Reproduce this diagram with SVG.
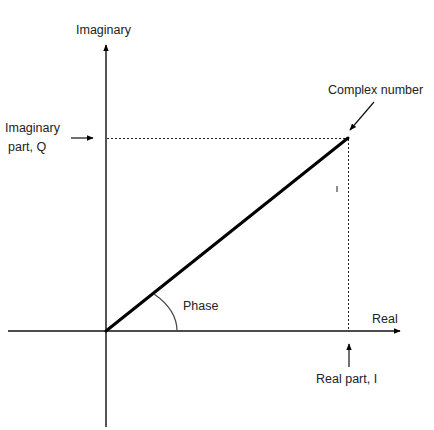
<svg xmlns="http://www.w3.org/2000/svg" width="434" height="430" viewBox="0 0 434 430">
<defs>
<marker id="ah" viewBox="0 0 10 10" refX="9" refY="5" markerWidth="7" markerHeight="7" markerUnits="userSpaceOnUse" orient="auto">
<path d="M0,1 L10,5 L0,9 Z" fill="#000"/>
</marker>
<style>
text{font-family:"Liberation Sans",Arial,sans-serif;font-size:12.5px;fill:#222}
.axis{stroke:#555;stroke-width:2;fill:none}
.haxis{stroke:#111;stroke-width:1.3;fill:none}
.dash{stroke:#222;stroke-width:1;stroke-dasharray:2,2;fill:none}
.thin{stroke:#111;stroke-width:1.2;fill:none}
</style>
</defs>
<rect width="434" height="430" fill="#fff"/>
<g id="connectors">
<line class="axis" x1="106" y1="427" x2="106" y2="45" marker-end="url(#ah)"/>
<line class="haxis" x1="8" y1="331" x2="400" y2="331" marker-end="url(#ah)"/>
<line class="dash" x1="107" y1="138.5" x2="348" y2="138.5"/>
<line class="dash" x1="348.5" y1="139" x2="348.5" y2="331"/>
<line x1="106" y1="331" x2="348" y2="138" stroke="#000" stroke-width="3" stroke-linecap="round"/>
<path d="M154,294 C167,303 177,315 177,331" stroke="#444" stroke-width="1.2" fill="none"/>
<line class="thin" x1="71" y1="138" x2="93" y2="138" marker-end="url(#ah)"/>
<line class="thin" x1="374" y1="102" x2="350" y2="130" marker-end="url(#ah)"/>
<line class="thin" x1="349" y1="367" x2="349" y2="344" marker-end="url(#ah)"/>
<line x1="337" y1="186" x2="337" y2="192" stroke="#444" stroke-width="1.2"/>
</g>
<g id="imaginary-axis-label"><text x="76" y="34">Imaginary</text></g>
<g id="imag-part-label"><text x="5" y="132">Imaginary</text><text x="8" y="151">part, Q</text></g>
<g id="complex-number-label"><text x="328" y="94">Complex number</text></g>
<g id="real-axis-label"><text x="372" y="323">Real</text></g>
<g id="real-part-label"><text x="316" y="383">Real part, I</text></g>
<g id="phase-label"><text x="183" y="310">Phase</text></g>
</svg>
